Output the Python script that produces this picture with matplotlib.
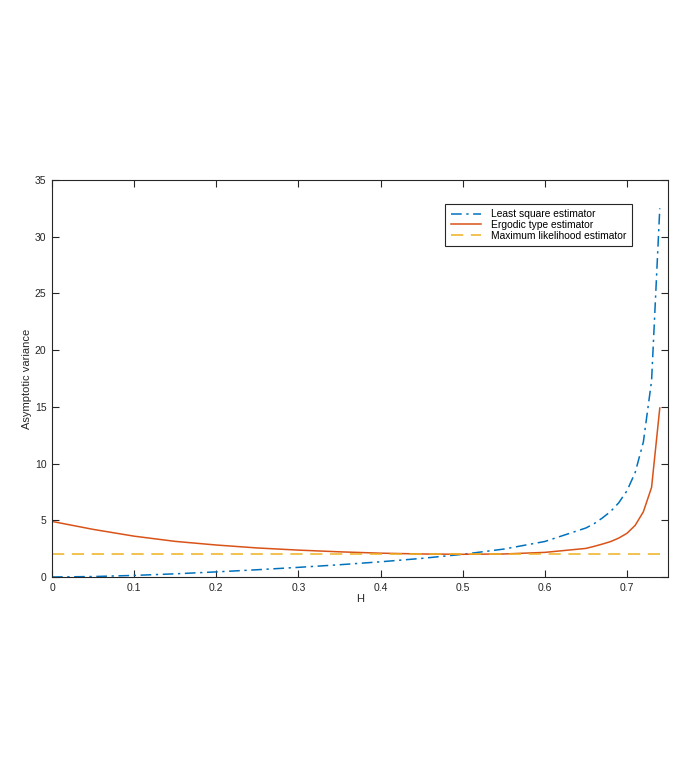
import numpy as np
import matplotlib.pyplot as plt

plt.rcParams['font.family'] = ['Liberation Sans', 'DejaVu Sans']

# values
H = [0.0, 0.05, 0.10, 0.15, 0.20, 0.25, 0.30, 0.35, 0.40, 0.45, 0.50, 0.55, 0.60,
     0.65, 0.66, 0.67, 0.68, 0.69, 0.70, 0.71, 0.72, 0.73, 0.74]
least_square = [0.0, 0.04, 0.14, 0.28, 0.45, 0.64, 0.85, 1.08, 1.34, 1.64, 2.0, 2.46, 3.13,
                4.32, 4.70, 5.20, 5.77, 6.54, 7.60, 9.20, 11.9, 17.3, 32.5]
ergodic = [4.9, 4.2, 3.6, 3.14, 2.82, 2.56, 2.37, 2.22, 2.10, 2.03, 2.0, 2.03, 2.17,
           2.52, 2.70, 2.90, 3.12, 3.43, 3.85, 4.55, 5.75, 7.9, 14.9]
mle = [2.0] * len(H)

labels = ['Least square estimator', 'Ergodic type estimator', 'Maximum likelihood estimator']
colors = ['#0072BD', '#D95319', '#EDB120']

fig = plt.figure(figsize=(6.78, 7.63), dpi=100)
ax = fig.add_axes([52/678, 186/763, 616/678, 397/763])

ax.plot(H, least_square, '-.', color=colors[0], lw=1.1, label=labels[0], dashes=(7, 3, 1.5, 3))
ax.plot(H, ergodic, '-', color=colors[1], lw=1.1, label=labels[1])
ax.plot(H, mle, '--', color=colors[2], lw=1.1, label=labels[2], dashes=(8, 5))

ax.set_xlim(0, 0.75)
ax.set_ylim(0, 35)
ax.set_xticks([0, 0.1, 0.2, 0.3, 0.4, 0.5, 0.6, 0.7])
ax.set_xticklabels(['0', '0.1', '0.2', '0.3', '0.4', '0.5', '0.6', '0.7'])
ax.set_yticks(range(0, 36, 5))

dark = '#262626'
for s in ax.spines.values():
    s.set_color(dark)
    s.set_linewidth(0.8)
ax.tick_params(direction='in', top=True, right=True, length=5, width=0.8,
               colors=dark, labelsize=7.5, pad=4)

ax.set_xlabel('H', fontsize=8, color=dark, labelpad=1)
ax.set_ylabel('Asymptotic variance', fontsize=8, color=dark, labelpad=2)

leg = ax.legend(loc='upper left', bbox_to_anchor=(0.638, 0.94), fontsize=7.4,
                fancybox=False, framealpha=1, edgecolor=dark, handlelength=3.0,
                borderpad=0.55, labelspacing=0.05, handletextpad=0.9, borderaxespad=0)
leg.get_frame().set_linewidth(0.8)

fig.savefig('out.png', dpi=100)
